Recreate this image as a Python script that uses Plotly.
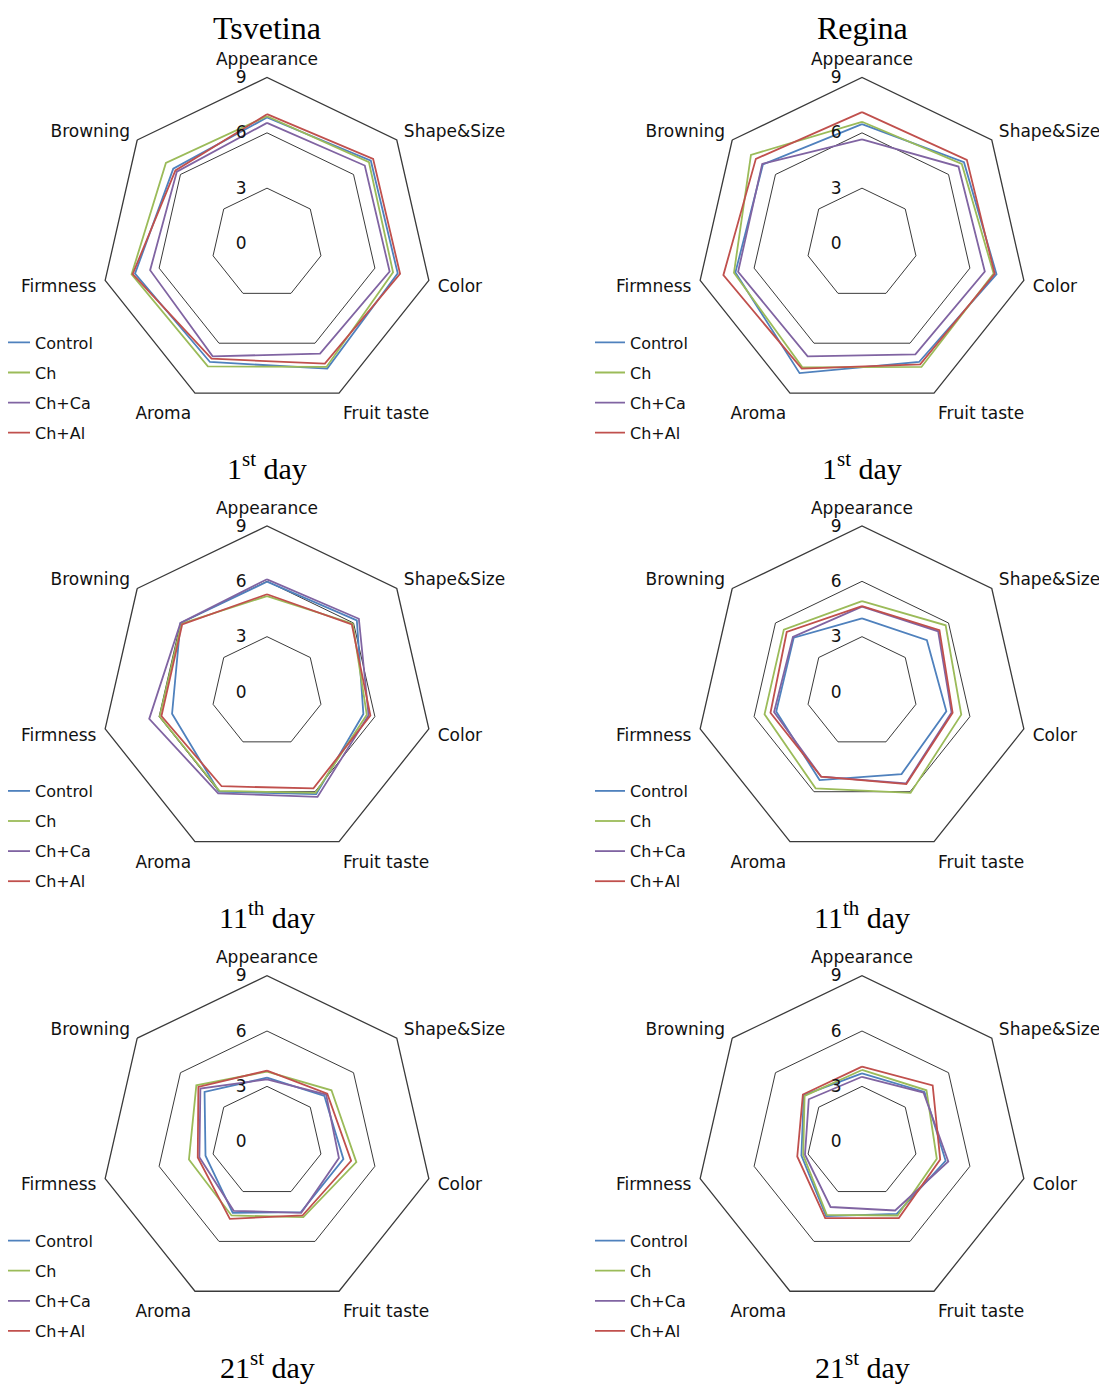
import plotly.graph_objects as go

categories = ["Appearance", "Shape&Size", "Color", "Fruit taste", "Aroma", "Firmness", "Browning"]
treatments = ["Control", "Ch", "Ch+Ca", "Ch+Al"]
colors = ["#4F81BD", "#9BBB59", "#8064A2", "#C0504D"]
radial_ticks = [0, 3, 6, 9]

# values in order of categories
tsvetina_day1 = {
    "Control": [6.83, 7.20, 7.27, 7.53, 7.13, 7.34, 6.50],
    "Ch":      [6.90, 7.07, 7.01, 7.43, 7.39, 7.53, 7.01],
    "Ch+Ca":   [6.54, 6.78, 6.82, 6.63, 6.79, 6.50, 6.25],
    "Ch+Al":   [7.01, 7.36, 7.40, 7.23, 6.93, 7.47, 6.35],
}
regina_day1 = {
    "Control": [6.47, 7.07, 7.48, 7.13, 7.80, 7.04, 6.87],
    "Ch":      [6.60, 6.92, 7.32, 7.43, 7.45, 7.12, 7.70],
    "Ch+Ca":   [5.64, 6.69, 6.83, 6.67, 6.79, 6.89, 6.92],
    "Ch+Al":   [7.12, 7.27, 7.38, 7.27, 7.53, 7.71, 7.36],
}
tsvetina_day11 = {
    "Control": [5.98, 6.23, 5.36, 6.15, 6.00, 5.28, 6.00],
    "Ch":      [5.20, 5.94, 5.55, 6.07, 5.95, 5.97, 5.94],
    "Ch+Ca":   [6.11, 6.37, 5.65, 6.31, 6.10, 6.55, 6.00],
    "Ch+Al":   [5.30, 5.88, 5.75, 5.80, 5.67, 5.87, 5.88],
}
regina_day11 = {
    "Control": [3.99, 4.50, 4.69, 4.94, 5.30, 4.77, 4.73],
    "Ch":      [4.93, 5.80, 5.52, 6.07, 5.80, 5.42, 5.42],
    "Ch+Ca":   [4.63, 5.28, 4.98, 5.50, 5.10, 4.89, 4.79],
    "Ch+Al":   [4.66, 5.37, 5.04, 5.54, 5.10, 5.09, 5.22],
}
tsvetina_day21 = {
    "Control": [3.47, 3.98, 4.25, 4.24, 4.28, 3.42, 4.33],
    "Ch":      [3.80, 4.47, 4.97, 4.54, 4.44, 4.34, 4.90],
    "Ch+Ca":   [3.38, 4.10, 4.00, 4.28, 4.16, 3.76, 4.62],
    "Ch+Al":   [3.85, 4.18, 4.68, 4.44, 4.64, 3.85, 4.76],
}
regina_day21 = {
    "Control": [3.70, 4.33, 4.65, 4.34, 4.48, 3.37, 4.04],
    "Ch":      [3.89, 4.47, 4.16, 4.44, 4.40, 3.27, 3.98],
    "Ch+Ca":   [3.52, 4.27, 4.80, 4.14, 3.93, 3.17, 3.69],
    "Ch+Al":   [4.07, 4.90, 4.35, 4.60, 4.60, 3.60, 4.10],
}

panels = [tsvetina_day1, regina_day1, tsvetina_day11, regina_day11, tsvetina_day21, regina_day21]
column_titles = ["Tsvetina", "Regina"]
day_labels = ["1<sup>st</sup> day", "11<sup>th</sup> day", "21<sup>st</sup> day"]

OFF = 8  # browser page margin
W, H = 1107 - OFF, 1385 - OFF
col_cx = [267 - OFF, 862 - OFF]
row_cy = [243.5 - OFF, 692 - OFF, 1141.7 - OFF]
R = 166
SANS = "DejaVu Sans"
SERIF = "Liberation Serif"
GRID = "#3a3a3a"

fig = go.Figure()
layout = dict(
    width=W, height=H, paper_bgcolor="white", plot_bgcolor="white",
    margin=dict(l=0, r=0, t=0, b=0, autoexpand=False), showlegend=True,
    font=dict(family=SANS, size=17, color="#111"),
)
annotations = []

for i, panel in enumerate(panels):
    r, c = divmod(i, 2)
    pname = "polar" if i == 0 else f"polar{i+1}"
    lname = "legend" if i == 0 else f"legend{i+1}"
    cx, cy = col_cx[c], row_cy[r]
    for k, t in enumerate(treatments):
        vals = panel[t]
        fig.add_trace(go.Scatterpolar(
            r=vals + vals[:1], theta=categories + categories[:1],
            mode="lines", name=t, line=dict(color=colors[k], width=1.8),
            subplot=pname, legend=lname, legendgroup=f"{t}{i}",
        ))
    layout[pname] = dict(
        domain=dict(x=[(cx - R) / W, (cx + R) / W], y=[1 - (cy + R) / H, 1 - (cy - R) / H]),
        gridshape="linear", bgcolor="white",
        angularaxis=dict(rotation=90, direction="clockwise", showgrid=False,
                         linecolor=GRID, linewidth=1.3, ticks="outside", ticklen=5,
                         tickcolor="rgba(0,0,0,0)",
                         tickfont=dict(family=SANS, size=17, color="#111")),
        radialaxis=dict(range=[0, 9], tickvals=radial_ticks, showline=False,
                        gridcolor=GRID, gridwidth=1.3, angle=90, tickangle=90,
                        side="counterclockwise", ticks="outside", ticklen=14,
                        tickcolor="rgba(0,0,0,0)",
                        tickfont=dict(family=SANS, size=17, color="#111")),
    )
    layout[lname] = dict(
        x=(cx - 267 - 5) / W, y=1 - (cy + 82) / H, xanchor="left", yanchor="top",
        bgcolor="rgba(0,0,0,0)", font=dict(family=SANS, size=16, color="#111"),
        tracegroupgap=6.3, itemwidth=30,
    )

for c, t in enumerate(column_titles):
    annotations.append(dict(text=t, x=col_cx[c] / W, y=1.0, xref="paper", yref="paper",
                            xanchor="center", yanchor="top", showarrow=False,
                            font=dict(family=SERIF, size=32, color="#000")))
for r, d in enumerate(day_labels):
    for c in range(2):
        annotations.append(dict(text=d, x=col_cx[c] / W, y=1 - (row_cy[r] + 223) / H,
                                xref="paper", yref="paper", xanchor="center", yanchor="middle",
                                showarrow=False, font=dict(family=SERIF, size=30, color="#000")))
layout["annotations"] = annotations
fig.update_layout(**layout)
fig.write_html("out.html")
